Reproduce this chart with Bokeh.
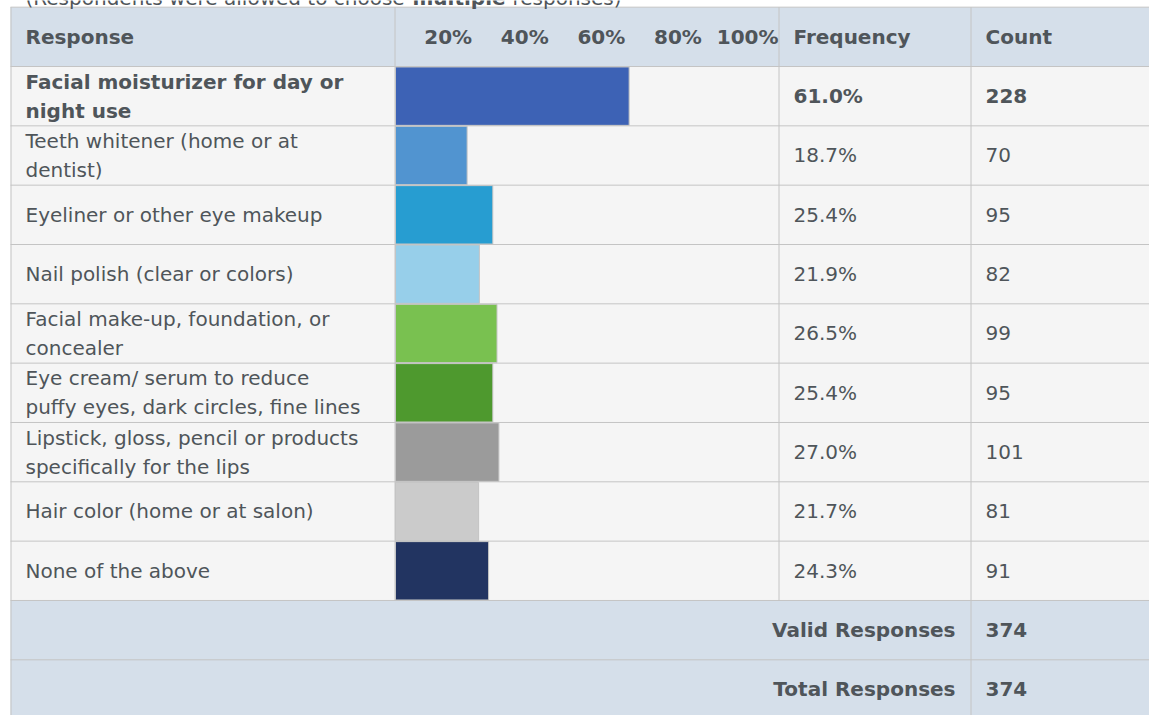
from bokeh.plotting import figure
from bokeh.models import Range1d, ColumnDataSource
from bokeh.core.properties import value
from bokeh.embed import file_html
from bokeh.resources import INLINE

# ---------------- data ----------------
responses = [
    "Facial moisturizer for day or\nnight use",
    "Teeth whitener (home or at\ndentist)",
    "Eyeliner or other eye makeup",
    "Nail polish (clear or colors)",
    "Facial make-up, foundation, or\nconcealer",
    "Eye cream/ serum to reduce\npuffy eyes, dark circles, fine lines",
    "Lipstick, gloss, pencil or products\nspecifically for the lips",
    "Hair color (home or at salon)",
    "None of the above",
]
frequency = [61.0, 18.7, 25.4, 21.9, 26.5, 25.4, 27.0, 21.7, 24.3]
counts = [228, 70, 95, 82, 99, 95, 101, 81, 91]
bar_colors = ["#3d62b5", "#5194d0", "#279dd1", "#97cfea", "#79c150",
              "#4e992e", "#9b9b9b", "#cbcbcb", "#223461"]
tick_values = [20, 40, 60, 80, 100]
valid_responses = 374
total_responses = 374

# ---------------- style ----------------
FONT = value("DejaVu Sans")
TXT = "#4f555a"
HEAD_BG = "#d5dfea"
ROW_BG = "#f5f5f5"
GRID = "#c4c4c4"
FS = "20px"

ROW_H = 59.33          # pixel height of one row
TOP0 = 66.0            # pixel y of first data row top
W, H = 1149, 715

def k_of(py):
    return (py - TOP0) / ROW_H

p = figure(width=W, height=H, output_backend="svg", toolbar_location=None,
           x_range=Range1d(0, W),
           y_range=Range1d(k_of(H), k_of(0)),
           x_axis_location=None, y_axis_location=None, min_border=0)
p.grid.visible = False
p.outline_line_color = None
p.background_fill_color = "white"
p.border_fill_color = "white"
# percentage scale for the bar column: 0% at px 395, 100% at px 778
p.extra_x_ranges = {"pct": Range1d((0 - 395) / 3.83, (W - 395) / 3.83)}

n = len(responses)
L, R = 10, W

# backgrounds
p.quad(left=L, right=R, top=-1.0, bottom=0, fill_color=HEAD_BG, line_color=None)
rows = ColumnDataSource(dict(top=[i for i in range(n)], bottom=[i + 1 for i in range(n)]))
p.quad(left=L, right=R, top="top", bottom="bottom", source=rows, fill_color=ROW_BG, line_color=None)
p.quad(left=L, right=R, top=n, bottom=n + 2.2, fill_color=HEAD_BG, line_color=None)

# bars
bars = ColumnDataSource(dict(right=frequency, top=[i + 0.008 for i in range(n)],
                             bottom=[i + 0.992 for i in range(n)], color=bar_colors))
p.quad(left=0, right="right", top="top", bottom="bottom", source=bars,
       fill_color="color", line_color=GRID, line_width=1, x_range_name="pct")

# grid lines
hy = [-1.0] + list(range(0, n + 2))
p.segment(x0=L, x1=R, y0=hy, y1=hy, line_color=GRID, line_width=1)
p.segment(x0=[10.5, 394.5, 778.5, 970.5], x1=[10.5, 394.5, 778.5, 970.5],
          y0=[-1.0] * 4, y1=[n + 2.2, n, n, n + 2.2], line_color=GRID, line_width=1)

# subtitle (cut off at the top like the reference)
sub_y = k_of(-2.5)
p.text(x=[25], y=[sub_y], text=["(Respondents were allowed to choose"], text_font=FONT,
       text_font_size=FS, text_color=TXT, text_baseline="alphabetic")
p.text(x=[412], y=[sub_y], text=["multiple"], text_font=FONT, text_font_style="bold",
       text_font_size=FS, text_color=TXT, text_baseline="alphabetic")
p.text(x=[512], y=[sub_y], text=["responses)"], text_font=FONT,
       text_font_size=FS, text_color=TXT, text_baseline="alphabetic")

# header
hk = -0.5
p.text(x=[25, 793, 985], y=[hk] * 3, text=["Response", "Frequency", "Count"], text_font=FONT,
       text_font_style="bold", text_font_size=FS, text_color=TXT, text_baseline="middle")
p.text(x=tick_values, y=[hk] * len(tick_values), text=[f"{t}%" for t in tick_values],
       x_range_name="pct", text_font=FONT, text_font_style="bold", text_font_size=FS,
       text_color=TXT, text_baseline="middle", text_align="right")

# data rows
for i in range(n):
    style = "bold" if i == 0 else "normal"
    yk = i + 0.5
    p.text(x=[25], y=[yk], text=[responses[i]], text_font=FONT, text_font_style=style,
           text_font_size=FS, text_color=TXT, text_baseline="middle", text_line_height=1.2)
    p.text(x=[793, 985], y=[yk, yk], text=[f"{frequency[i]:.1f}%", str(counts[i])],
           text_font=FONT, text_font_style=style, text_font_size=FS, text_color=TXT,
           text_baseline="middle")

# footer
p.text(x=[955, 955], y=[n + 0.5, n + 1.5], text=["Valid Responses", "Total Responses"],
       text_font=FONT, text_font_style="bold", text_font_size=FS, text_color=TXT,
       text_baseline="middle", text_align="right")
p.text(x=[985, 985], y=[n + 0.5, n + 1.5], text=[str(valid_responses), str(total_responses)],
       text_font=FONT, text_font_style="bold", text_font_size=FS, text_color=TXT,
       text_baseline="middle")

open("out.html", "w").write(file_html(p, INLINE))
